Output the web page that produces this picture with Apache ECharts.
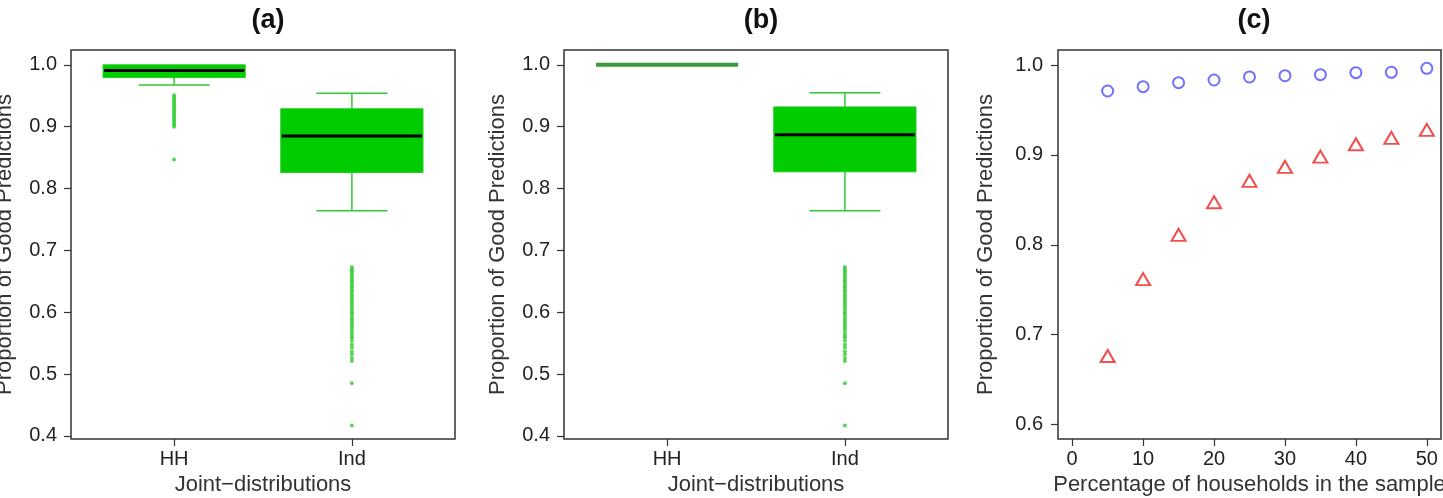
<!DOCTYPE html>
<html>
<head>
<meta charset="utf-8">
<script src="https://cdn.jsdelivr.net/npm/echarts@6/dist/echarts.min.js"></script>
<style>
  html, body { margin: 0; padding: 0; background: #fff; }
  #main { width: 1443px; height: 498px; }
</style>
</head>
<body>
<div id="main"></div>
<script>
// categories of the two box plots
const categories = ['HH', 'Ind'];
// box stats: [low whisker, q1, median, q3, high whisker]
const boxA = [
  [0.9676, 0.9795, 0.9908, 1.0, 1.0],
  [0.764, 0.826, 0.885, 0.929, 0.954]
];
const boxB = [
  [1.0, 1.0, 1.0, 1.0, 1.0],
  [0.764, 0.827, 0.887, 0.932, 0.955]
];
// outliers
const hhOutA = [0.951, 0.948, 0.945, 0.942, 0.939, 0.936, 0.933, 0.930, 0.927, 0.924,
  0.921, 0.918, 0.915, 0.912, 0.909, 0.906, 0.903, 0.900, 0.847];
const indOut = [0.673, 0.670, 0.667, 0.664, 0.660, 0.657, 0.653, 0.650, 0.647, 0.643,
  0.640, 0.636, 0.633, 0.629, 0.626, 0.622, 0.619, 0.615, 0.612, 0.608, 0.604, 0.600,
  0.597, 0.593, 0.589, 0.586, 0.582, 0.578, 0.575, 0.571, 0.566, 0.562, 0.559, 0.554,
  0.548, 0.543, 0.537, 0.532, 0.526, 0.521, 0.485, 0.417];
// panel (c)
const pct = [5, 10, 15, 20, 25, 30, 35, 40, 45, 50];
const hhGood = [0.9711, 0.9759, 0.9804, 0.9833, 0.9867, 0.9881, 0.9893, 0.9915, 0.9919, 0.9963];
const indGood = [0.6763, 0.7619, 0.8111, 0.8474, 0.8711, 0.8867, 0.8981, 0.9119, 0.9189, 0.9278];
// tick labels
const yTicksBox = [0.4, 0.5, 0.6, 0.7, 0.8, 0.9, 1.0];
const yTicksC = [0.6, 0.7, 0.8, 0.9, 1.0];
const xTicksC = [0, 10, 20, 30, 40, 50];

const FONT = 'Liberation Sans';
const GREEN = '#00cc00';
const tickFont = { fontFamily: FONT, fontSize: 20, color: '#222' };
const nameFont = { fontFamily: FONT, fontSize: 22, color: '#333' };

function renderBox(params, api) {
  const x = api.value(0);
  const low = api.value(1), q1 = api.value(2), med = api.value(3), q3 = api.value(4), high = api.value(5);
  const l = api.coord([x - 0.4, q3]);
  const r = api.coord([x + 0.4, q1]);
  const m1 = api.coord([x - 0.4, med]);
  const m2 = api.coord([x + 0.4, med]);
  if (q1 === q3) {
    return {
      type: 'line',
      shape: { x1: m1[0], y1: m1[1], x2: m2[0], y2: m2[1] },
      style: { stroke: '#3c9a3c', lineWidth: 4 }
    };
  }
  const cx = api.coord([x, 0])[0];
  const capL = api.coord([x - 0.2, 0])[0];
  const capR = api.coord([x + 0.2, 0])[0];
  const yHigh = api.coord([x, high])[1];
  const yLow = api.coord([x, low])[1];
  const wStyle = { stroke: '#2fcc2f', lineWidth: 1.5 };
  const children = [
    { type: 'line', shape: { x1: cx, y1: yHigh, x2: cx, y2: l[1] }, style: wStyle },
    { type: 'line', shape: { x1: cx, y1: r[1], x2: cx, y2: yLow }, style: wStyle },
    { type: 'line', shape: { x1: capL, y1: yLow, x2: capR, y2: yLow }, style: wStyle },
    { type: 'rect', shape: { x: l[0], y: l[1], width: r[0] - l[0], height: r[1] - l[1] },
      style: { fill: GREEN, stroke: '#22cc22', lineWidth: 1 } },
    { type: 'line', shape: { x1: m1[0] + 1, y1: m1[1], x2: m2[0] - 1, y2: m2[1] },
      style: { stroke: '#000', lineWidth: 3 } }
  ];
  if (high > q3) {
    children.push({ type: 'line', shape: { x1: capL, y1: yHigh, x2: capR, y2: yHigh }, style: wStyle });
  }
  return { type: 'group', children: children };
}

function boxYAxis(idx, gap) {
  return {
    type: 'value', gridIndex: idx, min: 0.395, max: 1.024,
    name: 'Proportion of Good Predictions', nameLocation: 'middle', nameGap: gap,
    nameTextStyle: nameFont,
    axisLine: { show: false, onZero: false },
    axisTick: { show: true, length: 7, customValues: yTicksBox, lineStyle: { color: '#333', width: 1.2 } },
    axisLabel: Object.assign({ customValues: yTicksBox, margin: 14, formatter: v => v.toFixed(1) }, tickFont),
    splitLine: { show: false }
  };
}

function boxXAxis(idx) {
  return {
    type: 'value', gridIndex: idx, min: 0.42, max: 2.58,
    name: 'Joint\u2212distributions', nameLocation: 'middle', nameGap: 32,
    nameTextStyle: nameFont,
    axisLine: { show: false, onZero: false },
    axisTick: { show: true, length: 7, customValues: [1, 2], lineStyle: { color: '#333', width: 1.2 } },
    axisLabel: Object.assign({ customValues: [1, 2], margin: 10,
      formatter: v => categories[Math.round(v) - 1] }, tickFont),
    splitLine: { show: false }
  };
}

const frame = { show: true, borderColor: '#333', borderWidth: 1.5, backgroundColor: '#fff',
  outerBoundsMode: 'none', containLabel: false };
const outStyle = { color: '#33cc33' };
const titleFont = { fontFamily: FONT, fontSize: 27, fontWeight: 'bold', color: '#111' };

const myChart = echarts.init(document.getElementById('main'));
const option = {
  backgroundColor: '#fff',
  animation: false,
  title: [
    { text: '(a)', left: 263, textAlign: 'center', top: 2, textStyle: titleFont },
    { text: '(b)', left: 756, textAlign: 'center', top: 2, textStyle: titleFont },
    { text: '(c)', left: 1249, textAlign: 'center', top: 2, textStyle: titleFont }
  ],
  grid: [
    Object.assign({ left: 71, top: 50, width: 384, height: 389 }, frame),
    Object.assign({ left: 564, top: 50, width: 384, height: 389 }, frame),
    Object.assign({ left: 1058, top: 50, width: 383, height: 389 }, frame)
  ],
  xAxis: [
    boxXAxis(0),
    boxXAxis(1),
    {
      type: 'value', gridIndex: 2, min: -2, max: 52,
      name: 'Percentage of households in the sample', nameLocation: 'middle', nameGap: 32,
      nameTextStyle: nameFont,
      axisLine: { show: false, onZero: false },
      axisTick: { show: true, length: 7, customValues: xTicksC, lineStyle: { color: '#333', width: 1.2 } },
      axisLabel: Object.assign({ customValues: xTicksC, margin: 10 }, tickFont),
      splitLine: { show: false }
    }
  ],
  yAxis: [
    boxYAxis(0, 55),
    boxYAxis(1, 55),
    {
      type: 'value', gridIndex: 2, min: 0.584, max: 1.0167,
      name: 'Proportion of Good Predictions', nameLocation: 'middle', nameGap: 61,
      nameTextStyle: nameFont,
      axisLine: { show: false, onZero: false },
      axisTick: { show: true, length: 7, customValues: yTicksC, lineStyle: { color: '#333', width: 1.2 } },
      axisLabel: Object.assign({ customValues: yTicksC, margin: 15, formatter: v => v.toFixed(1) }, tickFont),
      splitLine: { show: false }
    }
  ],
  series: [
    {
      type: 'custom', xAxisIndex: 0, yAxisIndex: 0, renderItem: renderBox,
      encode: { x: 0, y: [1, 2, 3, 4, 5] },
      data: boxA.map((b, i) => [i + 1].concat(b))
    },
    {
      type: 'scatter', xAxisIndex: 0, yAxisIndex: 0, symbolSize: 4, itemStyle: outStyle,
      data: hhOutA.map(v => [1, v]).concat(indOut.map(v => [2, v]))
    },
    {
      type: 'custom', xAxisIndex: 1, yAxisIndex: 1, renderItem: renderBox,
      encode: { x: 0, y: [1, 2, 3, 4, 5] },
      data: boxB.map((b, i) => [i + 1].concat(b))
    },
    {
      type: 'scatter', xAxisIndex: 1, yAxisIndex: 1, symbolSize: 4, itemStyle: outStyle,
      data: indOut.map(v => [2, v])
    },
    {
      type: 'scatter', xAxisIndex: 2, yAxisIndex: 2, symbol: 'emptyCircle', symbolSize: 11,
      itemStyle: { borderColor: '#4d4dff', borderWidth: 1.3, color: '#4d4dff' },
      data: pct.map((p, i) => [p, hhGood[i]])
    },
    {
      type: 'scatter', xAxisIndex: 2, yAxisIndex: 2, symbol: 'emptyTriangle', symbolSize: [14, 12],
      itemStyle: { borderColor: '#ee2222', borderWidth: 1.3, color: '#ee2222' },
      data: pct.map((p, i) => [p, indGood[i]])
    }
  ]
};
myChart.setOption(option);
</script>
</body>
</html>
